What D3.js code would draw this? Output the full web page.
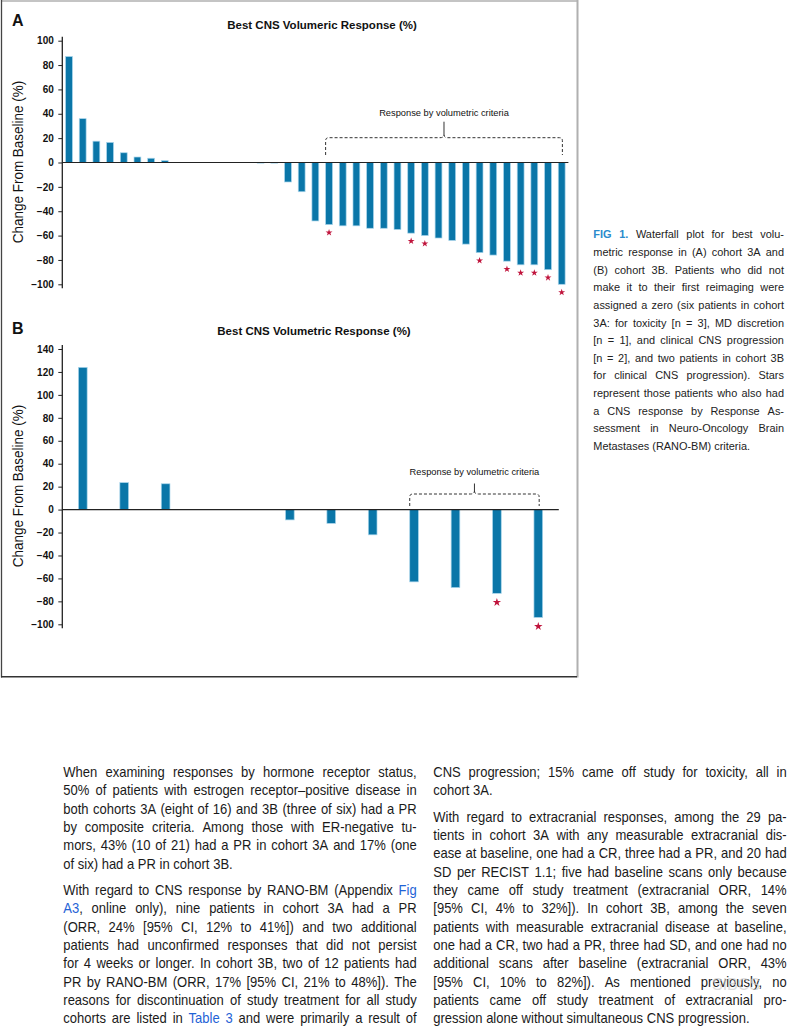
<!DOCTYPE html>
<html><head><meta charset="utf-8">
<script src="https://cdn.jsdelivr.net/npm/d3@7"></script>
<style>
html,body{margin:0;padding:0;background:#fff;}
svg{display:block;}
</style></head><body>
<svg id="c" width="788" height="1026"></svg>
<script>
// ---------------- DATA ----------------
const changeA = [87, 36, 17.5, 16.5, 8, 4.5, 3.5, 1.5, 0, 0, 0, 0, 0, 0, -0.5, -0.5,
  -16, -24, -48, -51, -52, -52, -54, -54, -55, -58, -60, -62, -64, -67, -74, -76,
  -81, -84, -84, -88, -100];
const ranoA = [19, 25, 26, 30, 32, 33, 34, 35, 36];
const bracketA = [19, 36];
const ticksA = [100, 80, 60, 40, 20, 0, -20, -40, -60, -80, -100];

const changeB = [124, 23.5, 22.5, 0, 0, -9, -12, -22, -63, -68, -73, -94];
const ranoB = [10, 11];
const bracketB = [8, 11];
const ticksB = [140, 120, 100, 80, 60, 40, 20, 0, -20, -40, -60, -80, -100];

const titleA = "Best CNS Volumeric Response (%)";
const titleB = "Best CNS Volumetric Response (%)";
const yTitle = "Change From Baseline (%)";
const bracketLabel = "Response by volumetric criteria";

const captionLines = [
  "^FIG 1.^ Waterfall plot for best volu-",
  "metric response in (A) cohort 3A and",
  "(B) cohort 3B. Patients who did not",
  "make it to their first reimaging were",
  "assigned a zero (six patients in cohort",
  "3A: for toxicity [n = 3], MD discretion",
  "[n = 1], and clinical CNS progression",
  "[n = 2], and two patients in cohort 3B",
  "for clinical CNS progression). Stars",
  "represent those patients who also had",
  "a CNS response by Response As-",
  "sessment in Neuro-Oncology Brain",
  "Metastases (RANO-BM) criteria."
];
const leftPara1 = [
  "When examining responses by hormone receptor status,",
  "50% of patients with estrogen receptor–positive disease in",
  "both cohorts 3A (eight of 16) and 3B (three of six) had a PR",
  "by composite criteria. Among those with ER-negative tu-",
  "mors, 43% (10 of 21) had a PR in cohort 3A and 17% (one",
  "of six) had a PR in cohort 3B."
];
const leftPara2 = [
  "With regard to CNS response by RANO-BM (Appendix ~Fig~",
  "~A3~, online only), nine patients in cohort 3A had a PR",
  "(ORR, 24% [95% CI, 12% to 41%]) and two additional",
  "patients had unconfirmed responses that did not persist",
  "for 4 weeks or longer. In cohort 3B, two of 12 patients had",
  "PR by RANO-BM (ORR, 17% [95% CI, 21% to 48%]). The",
  "reasons for discontinuation of study treatment for all study",
  "cohorts are listed in ~Table 3~ and were primarily a result of"
];
const rightPara1 = [
  "CNS progression; 15% came off study for toxicity, all in",
  "cohort 3A."
];
const rightPara2 = [
  "With regard to extracranial responses, among the 29 pa-",
  "tients in cohort 3A with any measurable extracranial dis-",
  "ease at baseline, one had a CR, three had a PR, and 20 had",
  "SD per RECIST 1.1; five had baseline scans only because",
  "they came off study treatment (extracranial ORR, 14%",
  "[95% CI, 4% to 32%]). In cohort 3B, among the seven",
  "patients with measurable extracranial disease at baseline,",
  "one had a CR, two had a PR, three had SD, and one had no",
  "additional scans after baseline (extracranial ORR, 43%",
  "[95% CI, 10% to 82%]). As mentioned previously, no",
  "patients came off study treatment of extracranial pro-",
  "gression alone without simultaneous CNS progression."
];

// ---------------- STYLE ----------------
const BAR = "#0a76a8", BAR_EDGE = "#a8d5eb", STAR = "#c0143c", INK = "#1a1a1a";
const SANS = "'Liberation Sans', Arial, Helvetica, sans-serif";

const svg = d3.select("#c");

// figure frame
svg.append("line").attr("x1", 1).attr("x2", 578).attr("y1", 1).attr("y2", 1).attr("stroke", "#b0b0b0").attr("stroke-width", 1.5);
svg.append("line").attr("x1", 577.5).attr("x2", 577.5).attr("y1", 0).attr("y2", 677.5).attr("stroke", "#b0b0b0").attr("stroke-width", 2);
svg.append("line").attr("x1", 1.5).attr("x2", 1.5).attr("y1", 0).attr("y2", 677.5).attr("stroke", "#444").attr("stroke-width", 1.3);
svg.append("line").attr("x1", 1).attr("x2", 577).attr("y1", 676.8).attr("y2", 676.8).attr("stroke", "#333").attr("stroke-width", 1.5);

function panel(cfg) {
  const g = svg.append("g");
  const n = cfg.values.length;
  const x = d3.scaleBand().domain(d3.range(n)).range(cfg.xr).paddingInner(cfg.pi).paddingOuter(cfg.po);
  const y = d3.scaleLinear().domain(cfg.dom).range(cfg.yr);

  g.append("text").attr("x", 12).attr("y", cfg.letterY).text(cfg.letter)
    .attr("font-family", SANS).attr("font-weight", "bold").attr("font-size", 16).attr("fill", "#111");
  g.append("text").attr("x", cfg.titleX).attr("y", cfg.titleY).attr("text-anchor", "middle").text(cfg.title)
    .attr("font-family", SANS).attr("font-weight", "bold").attr("font-size", 11.5).attr("fill", "#111");

  g.selectAll("rect.bar").data(cfg.values).join("rect").attr("class", "bar")
    .attr("x", (d, i) => x(i)).attr("width", x.bandwidth())
    .attr("y", d => y(Math.max(0, d))).attr("height", d => Math.abs(y(d) - y(0)))
    .attr("fill", BAR).attr("stroke", BAR_EDGE).attr("stroke-width", 0.7);

  g.append("line").attr("x1", cfg.xr[0]).attr("x2", cfg.xr[1]).attr("y1", y(0)).attr("y2", y(0))
    .attr("stroke", "#222").attr("stroke-width", 1.2);

  const ax = g.append("g").attr("transform", `translate(${cfg.xr[0]},0)`)
    .call(d3.axisLeft(y).tickValues(cfg.ticks).tickSize(4).tickPadding(4.5).tickSizeOuter(0));
  ax.select(".domain").remove();
  ax.selectAll(".tick line").attr("stroke", "#222").attr("stroke-width", 1);
  ax.selectAll(".tick text").attr("font-family", SANS).attr("font-weight", "bold").attr("font-size", 10).attr("fill", "#111");
  ax.append("line").attr("x1", 0).attr("x2", 0).attr("y1", y(cfg.dom[1]) - 4).attr("y2", y(cfg.dom[0]) + 4)
    .attr("stroke", "#222").attr("stroke-width", 1.3);

  g.append("text").attr("transform", `translate(22.5,${cfg.axTitleY}) rotate(-90) scale(0.93,1)`).attr("text-anchor", "middle")
    .text(yTitle).attr("font-family", SANS).attr("font-size", 14.5).attr("fill", "#111");

  g.selectAll("path.star").data(cfg.stars).join("path").attr("class", "star")
    .attr("d", d3.symbol(d3.symbolStar, cfg.starSize)())
    .attr("transform", i => `translate(${x(i) + x.bandwidth() / 2},${y(cfg.values[i]) + cfg.starGap})`)
    .attr("fill", STAR);

  const xl = x(cfg.bracket[0]);
  const xrr = x(cfg.bracket[1]) + x.bandwidth() * 0.6;
  const mid = (xl + xrr) / 2;
  const t = cfg.brTop, b = cfg.brBot, r = 3;
  const p = `M${xl},${b} L${xl},${t + r} Q${xl},${t} ${xl + r},${t} L${mid - 4},${t} Q${mid},${t} ${mid},${t - 3}` +
            ` M${mid},${t - 3} Q${mid},${t} ${mid + 4},${t} L${xrr - r},${t} Q${xrr},${t} ${xrr},${t + r} L${xrr},${b}`;
  g.append("path").attr("d", p).attr("fill", "none").attr("stroke", "#333").attr("stroke-width", 1).attr("stroke-dasharray", "3,2");
  g.append("line").attr("x1", mid).attr("x2", mid).attr("y1", t - 3).attr("y2", cfg.brNotch).attr("stroke", "#333").attr("stroke-width", 1);
  g.append("text").attr("x", mid).attr("y", cfg.labelY).attr("text-anchor", "middle").text(bracketLabel)
    .attr("font-family", SANS).attr("font-size", 9.3).attr("fill", "#111");
}

panel({
  letter: "A", letterY: 26, title: titleA, titleX: 322, titleY: 29,
  values: changeA, stars: ranoA, bracket: bracketA, ticks: ticksA,
  xr: [62.3, 568.4], pi: 0.5, po: 0.24, dom: [-100, 100], yr: [284.3, 40.7],
  axTitleY: 162, starSize: 15, starGap: 8,
  brTop: 137.7, brBot: 155, brNotch: 121.7, labelY: 116
});
panel({
  letter: "B", letterY: 334, title: titleB, titleX: 314, titleY: 335,
  values: changeB, stars: ranoB, bracket: bracketB, ticks: ticksB,
  xr: [62.3, 558.8], pi: 0.79, po: 0.39, dom: [-100, 140], yr: [624.3, 349],
  axTitleY: 486, starSize: 22, starGap: 9,
  brTop: 494, brBot: 506, brNotch: 483.5, labelY: 474.5
});

// ---------------- TEXT BLOCKS ----------------
function parseWords(line) {
  const words = []; let cur = []; let seg = ""; let style = null;
  const push = () => { if (seg) cur.push({ t: seg, s: style }); seg = ""; };
  for (const ch of line) {
    if (ch === "~") { push(); style = style === "link" ? null : "link"; }
    else if (ch === "^") { push(); style = style === "fig" ? null : "fig"; }
    else if (ch === " ") { push(); if (cur.length) words.push(cur); cur = []; }
    else seg += ch;
  }
  push(); if (cur.length) words.push(cur);
  return words;
}

function block(lines, opt) {
  const g = svg.append("g").attr("font-family", SANS).attr("font-size", opt.fs).attr("fill", opt.color);
  const sx0 = opt.sx;
  const tmp = g.append("text").attr("xml:space", "preserve");
  tmp.text("a a"); const w1 = tmp.node().getComputedTextLength();
  tmp.text("aa"); const w2 = tmp.node().getComputedTextLength();
  tmp.remove();
  const space = (w1 - w2) * sx0;
  lines.forEach((line, li) => {
    const yb = opt.y0 + li * opt.lh;
    const words = parseWords(line);
    const els = words.map(segs => {
      const t = g.append("text");
      segs.forEach(s => {
        const ts = t.append("tspan").text(s.t);
        if (s.s === "link") ts.attr("fill", "#1f63d6");
        if (s.s === "fig") ts.attr("fill", "#2a8bcc").attr("font-weight", "bold");
      });
      return t;
    });
    let sx = sx0;
    const nat = els.map(e => e.node().getComputedTextLength());
    const natSum = d3.sum(nat);
    const last = li === lines.length - 1 && !opt.justifyLast;
    let gap = last ? space : (opt.width - natSum * sx) / Math.max(1, els.length - 1);
    if (!last && gap < space * 0.75) {
      gap = space * 0.75;
      sx = (opt.width - gap * (els.length - 1)) / natSum;
    }
    let cx = opt.x0;
    els.forEach((e, i) => {
      e.attr("x", 0).attr("y", 0).attr("transform", `translate(${cx},${yb}) scale(${sx},1)`);
      cx += nat[i] * sx + gap;
    });
  });
}

block(captionLines, { x0: 593.3, width: 190.7, y0: 238.3, lh: 17.64, fs: 11.4, sx: 0.96, color: "#222" });
block(leftPara1, { x0: 63.3, width: 353.4, y0: 777, lh: 18.33, fs: 14, sx: 0.93, color: INK });
block(leftPara2, { x0: 63.3, width: 353.4, y0: 895, lh: 18.33, fs: 14, sx: 0.93, color: INK, justifyLast: true });
block(rightPara1, { x0: 433.3, width: 353.4, y0: 776.7, lh: 18.33, fs: 14, sx: 0.93, color: INK });
block(rightPara2, { x0: 433.3, width: 353.4, y0: 821.7, lh: 18.33, fs: 14, sx: 0.93, color: INK });

// faint watermark
svg.append("text").attr("x", 712).attr("y", 990).text("SIBCS")
  .attr("font-family", SANS).attr("font-size", 16).attr("fill", "#d0d0d0").attr("opacity", 0.7);
</script>
</body></html>
